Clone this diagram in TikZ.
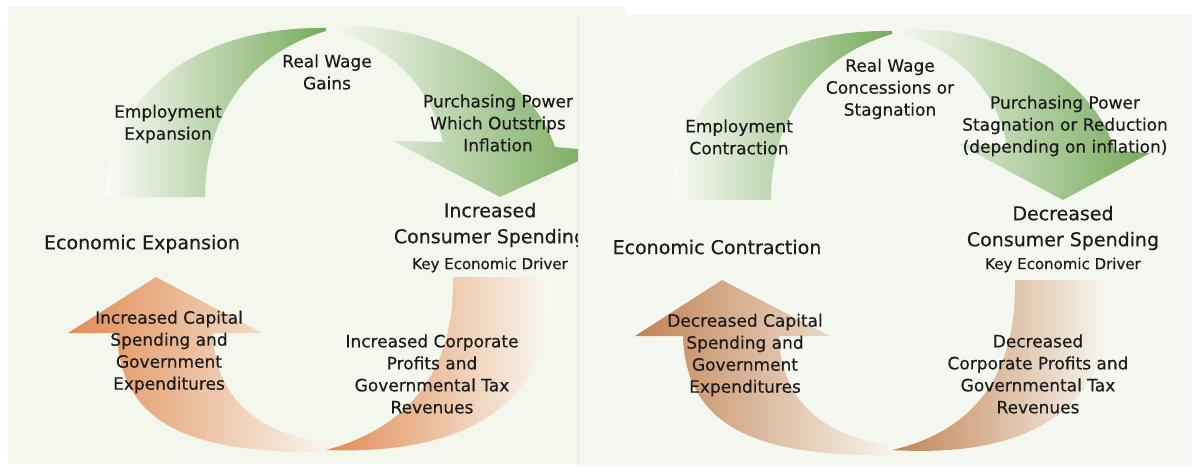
\documentclass[tikz,border=0pt]{standalone}
\usepackage{fontspec}
\setmainfont{DejaVu Sans}[FakeBold=0.4]
\definecolor{bgL}{RGB}{243,247,237}
\definecolor{bgR}{RGB}{245,248,240}
\definecolor{edgeR}{RGB}{228,233,222}
\definecolor{gdark}{RGB}{118,170,92}
\definecolor{glight}{RGB}{250,251,246}
\definecolor{odark}{RGB}{224,140,84}
\definecolor{bdark}{RGB}{194,130,84}
\definecolor{txt}{RGB}{28,28,28}
\tikzset{
  lbl/.style={text=txt, align=center, font=\fontsize{17}{22}\selectfont, inner sep=0pt},
  ttl/.style={text=txt, align=center, font=\fontsize{19}{26}\selectfont, inner sep=0pt},
  subttl/.style={text=txt, font=\fontsize{15}{18}\selectfont, inner sep=0pt},
}
\begin{document}
\begin{tikzpicture}[x=1pt,y=-1pt]
\useasboundingbox (0,0) rectangle (1195,469);
\fill[white] (0,0) rectangle (1195,469);
% ---------- left panel ----------
\fill[bgL] (8,7) rectangle (625,464);
% green arrow 2 (towards consumer spending)
\shade[left color=glight, right color=gdark]
  (322,27) .. controls (430,18) and (530,72) .. (555,147) -- (600,151) -- (500,197) -- (393,141) -- (443,142)
  .. controls (430,80) and (380,38) .. (324,30) -- cycle;
% green arrow 1 (employment)
\shade[left color=glight, right color=gdark]
  (106,197) .. controls (106,110) and (180,26) .. (326,28) -- (326,31)
  .. controls (245,55) and (205,120) .. (205,197) -- cycle;
% orange arrow (capital spending)
\shade[left color=odark, right color=glight]
  (156,277) -- (262,333) -- (213,333) .. controls (215,400) and (260,435) .. (330,443)
  -- (342,452) .. controls (210,455) and (120,435) .. (117,333) -- (68,333) -- cycle;
% orange arrow (corporate profits)
\shade[left color=odark, right color=glight]
  (453,277) -- (552,277) .. controls (555,410) and (460,455) .. (326,450)
  .. controls (400,430) and (455,380) .. (453,277) -- cycle;
% texts
\node[lbl] (L1) at (168,124) {Employment\\Expansion};
\node[lbl] (L2) at (327,72) {Real Wage\\Gains};
\node[lbl] (L3) at (498,123) {Purchasing Power\\Which Outstrips\\Inflation};
\node[ttl] (L4) at (490,225) {Increased\\Consumer Spending};
\node[subttl] (L5) at (490,265) {Key Economic Driver};
\node[ttl] (L6) at (142,244) {Economic Expansion};
\node[lbl] (L7) at (169,352) {Increased Capital\\Spending and\\Government\\Expenditures};
\node[lbl] (L8) at (432,374) {Increased Corporate\\Profits and\\Governmental Tax\\Revenues};
% ---------- right panel ----------
\fill[bgR] (578,15) rectangle (1192,466);
\draw[edgeR, line width=0.8pt] (578,15) -- (578,466);
\begin{scope}[shift={(566,3)}]
\shade[left color=glight, right color=gdark]
  (322,27) .. controls (430,18) and (527,72) .. (549,148) -- (584,150) -- (497,197) -- (392,141) -- (441,143)
  .. controls (430,80) and (380,38) .. (324,30) -- cycle;
\shade[left color=glight, right color=gdark]
  (106,197) .. controls (106,110) and (180,26) .. (326,28) -- (326,31)
  .. controls (245,55) and (205,120) .. (205,197) -- cycle;
\shade[left color=bdark, right color=glight]
  (156,277) -- (264,333) -- (213,333) .. controls (215,400) and (260,435) .. (330,443)
  -- (342,452) .. controls (210,455) and (120,435) .. (117,333) -- (69,333) -- cycle;
\shade[left color=bdark, right color=glight]
  (449,277) -- (547,277) .. controls (550,410) and (460,455) .. (326,447)
  .. controls (400,430) and (451,380) .. (449,277) -- cycle;
\end{scope}
\node[lbl] (R1) at (739,137) {Employment\\Contraction};
\node[lbl] (R2) at (890,89) {Real Wage\\Concessions or\\Stagnation};
\node[lbl] (R3) at (1065,126) {Purchasing Power\\Stagnation or Reduction\\(depending on inflation)};
\node[ttl] (R4) at (1063,228) {Decreased\\Consumer Spending};
\node[subttl] (R5) at (1063,265) {Key Economic Driver};
\node[ttl] (R6) at (717,247) {Economic Contraction};
\node[lbl] (R7) at (745,355) {Decreased Capital\\Spending and\\Government\\Expenditures};
\node[lbl] (R8) at (1038,374) {Decreased\\Corporate Profits and\\Governmental Tax\\Revenues};
\end{tikzpicture}
\end{document}
